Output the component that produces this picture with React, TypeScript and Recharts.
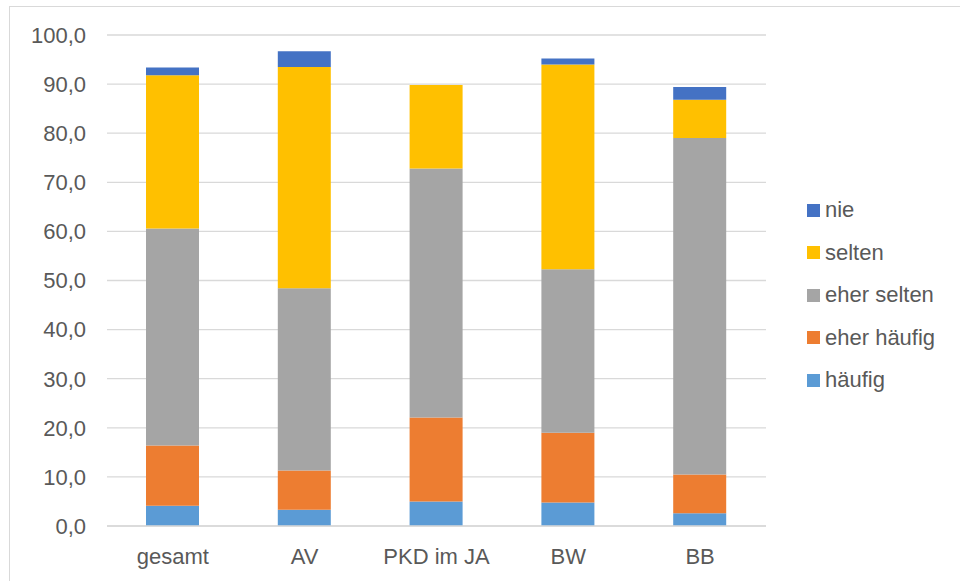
import { BarChart, Bar, XAxis, YAxis, CartesianGrid, Legend } from 'recharts';

const categories = ['gesamt', 'AV', 'PKD im JA', 'BW', 'BB'];
const haeufig = [4.1, 3.3, 5.0, 4.8, 2.6];
const eherHaeufig = [12.3, 8.0, 17.1, 14.2, 7.9];
const eherSelten = [44.2, 37.1, 50.7, 33.3, 68.5];
const selten = [31.2, 45.1, 17.0, 41.7, 7.8];
const nie = [1.6, 3.2, 0, 1.2, 2.6];
const yTicks = [0, 10, 20, 30, 40, 50, 60, 70, 80, 90, 100];

const series = [
    { key: 'haeufig', name: 'häufig', color: '#5B9BD5', values: haeufig },
    { key: 'eherHaeufig', name: 'eher häufig', color: '#ED7D31', values: eherHaeufig },
    { key: 'eherSelten', name: 'eher selten', color: '#A5A5A5', values: eherSelten },
    { key: 'selten', name: 'selten', color: '#FFC000', values: selten },
    { key: 'nie', name: 'nie', color: '#4472C4', values: nie },
];

const data = categories.map((name, i) => {
    const row: Record<string, string | number> = { name };
    series.forEach((s) => { row[s.key] = s.values[i]; });
    return row;
});

const FONT = '"Liberation Sans", Arial, sans-serif';
const TEXT = '#595959';
const GRID = '#d9d9d9';

const fmt = (v: number) => v.toFixed(1).replace('.', ',');

function LegendBox() {
    return (
        <div style={{ fontFamily: FONT, fontSize: 22, color: TEXT }}>
            {[...series].reverse().map((s) => (
                <div key={s.key} style={{ display: 'flex', alignItems: 'center', height: 42.5 }}>
                    <span style={{ width: 13, height: 13, background: s.color, marginRight: 5, display: 'inline-block' }} />
                    <span>{s.name}</span>
                </div>
            ))}
        </div>
    );
}

export default function App() {
    return (
        <div style={{ position: 'absolute', left: 0, top: 0, width: 960, height: 581, overflow: 'hidden', background: '#fff' }}>
            <div style={{ position: 'absolute', left: 9, top: 6, width: 980, height: 620, border: `1px solid ${GRID}` }} />
            <div style={{ position: 'absolute', left: 0, top: 0 }}>
                <BarChart
                    width={960}
                    height={581}
                    data={data}
                    margin={{ top: 35, right: 194, left: 17, bottom: 0 }}
                    barSize={53}
                >
                    <CartesianGrid vertical={false} stroke={GRID} strokeWidth={1.3} />
                    <XAxis
                        dataKey="name"
                        height={55}
                        tickLine={false}
                        axisLine={{ stroke: GRID, strokeWidth: 1.3 }}
                        tickSize={6}
                        tickMargin={16}
                        tick={{ fill: TEXT, fontSize: 22, fontFamily: FONT }}
                    />
                    <YAxis
                        width={90}
                        domain={[0, 100]}
                        ticks={yTicks}
                        tickFormatter={fmt}
                        tickLine={false}
                        axisLine={false}
                        tickSize={6}
                        tickMargin={15}
                        tick={{ fill: TEXT, fontSize: 22, fontFamily: FONT }}
                    />
                    <Legend
                        layout="horizontal"
                        align="center"
                        verticalAlign="middle"
                        content={() => <LegendBox />}
                        wrapperStyle={{ left: 807, top: 189, width: 150, height: 215 }}
                    />
                    {series.map((s) => (
                        <Bar key={s.key} dataKey={s.key} name={s.name} stackId="a" fill={s.color} isAnimationActive={false} />
                    ))}
                </BarChart>
            </div>
        </div>
    );
}
